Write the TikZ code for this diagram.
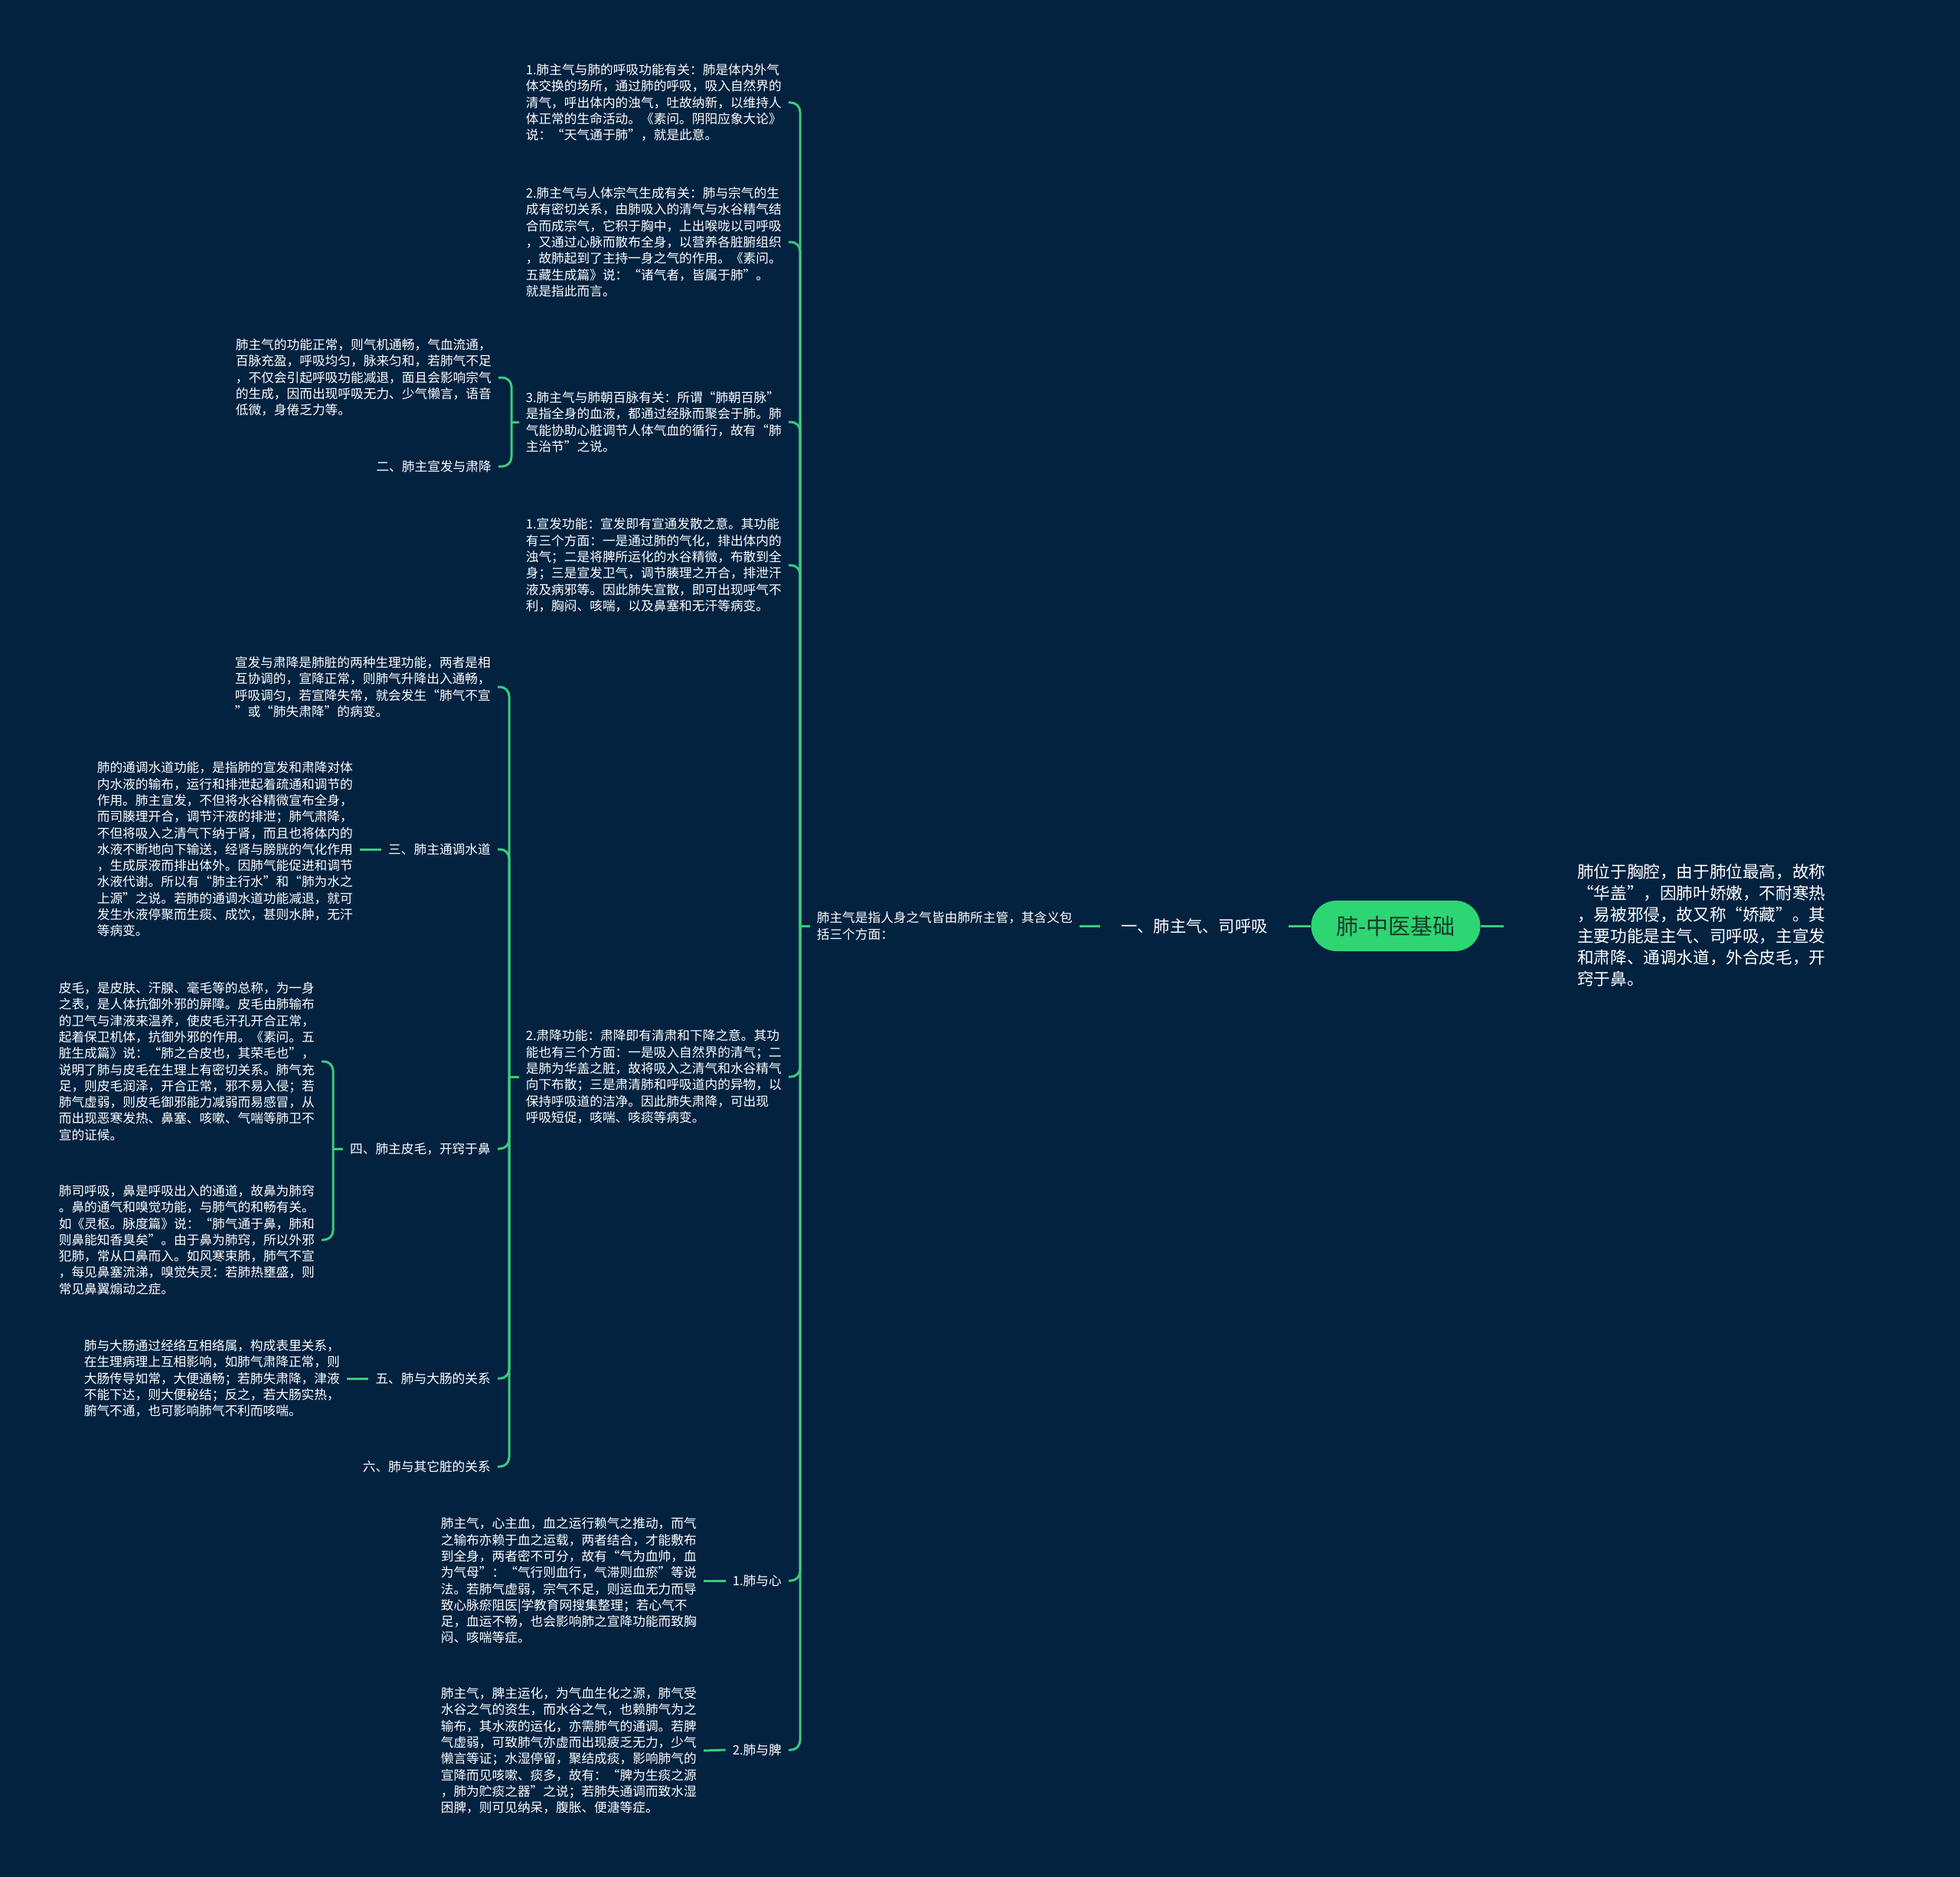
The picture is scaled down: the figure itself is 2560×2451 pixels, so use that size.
\documentclass[tikz,border=0pt]{standalone}
\usepackage{fontspec}
\setmainfont{Noto Sans CJK SC}
\definecolor{bg}{HTML}{022240}
\definecolor{lc}{HTML}{3ACB7C}
\definecolor{rootc}{HTML}{2ED573}
\definecolor{roottext}{HTML}{1B3A2B}
\tikzset{
  txt/.style={text=white, font=\fontsize{16.7}{21.3}\selectfont, align=left, inner xsep=9pt, inner ysep=4pt},
  lbl/.style={txt, anchor=east},
  lnk/.style={draw=lc, line width=3pt, rounded corners=12pt},
  rootbox/.style={fill=rootc, text=roottext, font=\fontsize{29}{34}\selectfont, minimum width=221pt, minimum height=66pt, rounded corners=33pt, inner sep=0pt},
}
\begin{document}
\begin{tikzpicture}[x=1pt,y=-1pt]
\fill[bg] (0,0) rectangle (2560,2451);
\useasboundingbox (0,0) rectangle (2560,2451);

% root and right description
\node[rootbox] (root) at (1823,1209) {肺-中医基础};
\coordinate (descend) at (1964,1209);
\node[txt, anchor=west, font=\fontsize{21.6}{28}\selectfont] (desc) at (2051,1208) {肺位于胸腔，由于肺位最高，故称\\“华盖”，因肺叶娇嫩，不耐寒热\\，易被邪侵，故又称“娇藏”。其\\主要功能是主气、司呼吸，主宣发\\和肃降、通调水道，外合皮毛，开\\窍于鼻。};

% level 1
\node[txt, anchor=east, font=\fontsize{21.3}{26}\selectfont, inner xsep=27pt] (L1) at (1683,1209) {一、肺主气、司呼吸};
\node[lbl] (P) at (1410,1209) {肺主气是指人身之气皆由肺所主管，其含义包\\括三个方面：};
\coordinate (mainJ) at (1045,1209);

% children of P
\node[lbl] (A1) at (1030,134) {1.肺主气与肺的呼吸功能有关：肺是体内外气\\体交换的场所，通过肺的呼吸，吸入自然界的\\清气，呼出体内的浊气，吐故纳新，以维持人\\体正常的生命活动。《素问。阴阳应象大论》\\说：“天气通于肺”，就是此意。};
\node[lbl] (A2) at (1030,316) {2.肺主气与人体宗气生成有关：肺与宗气的生\\成有密切关系，由肺吸入的清气与水谷精气结\\合而成宗气，它积于胸中，上出喉咙以司呼吸\\，又通过心脉而散布全身，以营养各脏腑组织\\，故肺起到了主持一身之气的作用。《素问。\\五藏生成篇》说：“诸气者，皆属于肺”。\\就是指此而言。};
\node[lbl] (A3) at (1030,551) {3.肺主气与肺朝百脉有关：所谓“肺朝百脉”\\是指全身的血液，都通过经脉而聚会于肺。肺\\气能协助心脏调节人体气血的循行，故有“肺\\主治节”之说。};
\node[lbl] (A4) at (1030,738) {1.宣发功能：宣发即有宣通发散之意。其功能\\有三个方面：一是通过肺的气化，排出体内的\\浊气；二是将脾所运化的水谷精微，布散到全\\身；三是宣发卫气，调节腠理之开合，排泄汗\\液及病邪等。因此肺失宣散，即可出现呼气不\\利，胸闷、咳喘，以及鼻塞和无汗等病变。};
\node[lbl] (A5) at (1030,1406) {2.肃降功能：肃降即有清肃和下降之意。其功\\能也有三个方面：一是吸入自然界的清气；二\\是肺为华盖之脏，故将吸入之清气和水谷精气\\向下布散；三是肃清肺和呼吸道内的异物，以\\保持呼吸道的洁净。因此肺失肃降，可出现\\呼吸短促，咳喘、咳痰等病变。};
\node[lbl] (G1) at (1030,2064) {1.肺与心};
\node[lbl] (G2) at (1030,2285) {2.肺与脾};

% A3 branch
\coordinate (a3J) at (668,551);
\node[lbl] (B1) at (651,493) {肺主气的功能正常，则气机通畅，气血流通，\\百脉充盈，呼吸均匀，脉来匀和，若肺气不足\\，不仅会引起呼吸功能减退，面且会影响宗气\\的生成，因而出现呼吸无力、少气懒言，语音\\低微，身倦乏力等。};
\node[lbl] (B2) at (651,609) {二、肺主宣发与肃降};

% A5 branch
\coordinate (a5J) at (665,1406);
\node[lbl] (C1) at (650,897) {宣发与肃降是肺脏的两种生理功能，两者是相\\互协调的，宣降正常，则肺气升降出入通畅，\\呼吸调匀，若宣降失常，就会发生“肺气不宣\\”或“肺失肃降”的病变。};
\node[lbl] (C2) at (650,1109) {三、肺主通调水道};
\node[lbl] (C3) at (650,1500) {四、肺主皮毛，开窍于鼻};
\node[lbl] (C4) at (650,1800) {五、肺与大肠的关系};
\node[lbl] (C5) at (650,1915) {六、肺与其它脏的关系};

\node[lbl] (D1) at (470,1109) {肺的通调水道功能，是指肺的宣发和肃降对体\\内水液的输布，运行和排泄起着疏通和调节的\\作用。肺主宣发，不但将水谷精微宣布全身，\\而司腠理开合，调节汗液的排泄；肺气肃降，\\不但将吸入之清气下纳于肾，而且也将体内的\\水液不断地向下输送，经肾与膀胱的气化作用\\，生成尿液而排出体外。因肺气能促进和调节\\水液代谢。所以有“肺主行水”和“肺为水之\\上源”之说。若肺的通调水道功能减退，就可\\发生水液停聚而生痰、成饮，甚则水肿，无汗\\等病变。};

\coordinate (c3J) at (435,1500);
\node[lbl] (E1) at (420,1386) {皮毛，是皮肤、汗腺、毫毛等的总称，为一身\\之表，是人体抗御外邪的屏障。皮毛由肺输布\\的卫气与津液来温养，使皮毛汗孔开合正常，\\起着保卫机体，抗御外邪的作用。《素问。五\\脏生成篇》说：“肺之合皮也，其荣毛也”，\\说明了肺与皮毛在生理上有密切关系。肺气充\\足，则皮毛润泽，开合正常，邪不易入侵；若\\肺气虚弱，则皮毛御邪能力减弱而易感冒，从\\而出现恶寒发热、鼻塞、咳嗽、气喘等肺卫不\\宣的证候。};
\node[lbl] (E2) at (420,1619) {肺司呼吸，鼻是呼吸出入的通道，故鼻为肺窍\\。鼻的通气和嗅觉功能，与肺气的和畅有关。\\如《灵枢。脉度篇》说：“肺气通于鼻，肺和\\则鼻能知香臭矣”。由于鼻为肺窍，所以外邪\\犯肺，常从口鼻而入。如风寒束肺，肺气不宣\\，每见鼻塞流涕，嗅觉失灵：若肺热壅盛，则\\常见鼻翼煽动之症。};

\node[lbl] (F1) at (453,1800) {肺与大肠通过经络互相络属，构成表里关系，\\在生理病理上互相影响，如肺气肃降正常，则\\大肠传导如常，大便通畅；若肺失肃降，津液\\不能下达，则大便秘结；反之，若大肠实热，\\腑气不通，也可影响肺气不利而咳喘。};

% G branch
\node[lbl] (H1) at (919,2064) {肺主气，心主血，血之运行赖气之推动，而气\\之输布亦赖于血之运载，两者结合，才能敷布\\到全身，两者密不可分，故有“气为血帅，血\\为气母”：“气行则血行，气滞则血瘀”等说\\法。若肺气虚弱，宗气不足，则运血无力而导\\致心脉瘀阻医|学教育网搜集整理；若心气不\\足，血运不畅，也会影响肺之宣降功能而致胸\\闷、咳喘等症。};
\node[lbl] (H2) at (919,2286) {肺主气，脾主运化，为气血生化之源，肺气受\\水谷之气的资生，而水谷之气，也赖肺气为之\\输布，其水液的运化，亦需肺气的通调。若脾\\气虚弱，可致肺气亦虚而出现疲乏无力，少气\\懒言等证；水湿停留，聚结成痰，影响肺气的\\宣降而见咳嗽、痰多，故有：“脾为生痰之源\\，肺为贮痰之器”之说；若肺失通调而致水湿\\困脾，则可见纳呆，腹胀、便溏等症。};

% connectors
\draw[lnk] (root.west) -- (L1.east);
\draw[lnk] (root.east) -- (descend);
\draw[lnk] (L1.west) -- (P.east);
\draw[lnk] (P.west) -- (mainJ);
\foreach \c in {A1,A2,A3,A4,A5,G1,G2} \draw[lnk] (mainJ) |- (\c.east);
\draw[lnk] (A3.west) -- (a3J);
\foreach \c in {B1,B2} \draw[lnk] (a3J) |- (\c.east);
\draw[lnk] (A5.west) -- (a5J);
\foreach \c in {C1,C2,C3,C4,C5} \draw[lnk] (a5J) |- (\c.east);
\draw[lnk] (C2.west) -- (D1.east);
\draw[lnk] (C3.west) -- (c3J);
\foreach \c in {E1,E2} \draw[lnk] (c3J) |- (\c.east);
\draw[lnk] (C4.west) -- (F1.east);
\draw[lnk] (G1.west) -- (H1.east);
\draw[lnk] (G2.west) -- (H2.east);
\end{tikzpicture}
\end{document}
